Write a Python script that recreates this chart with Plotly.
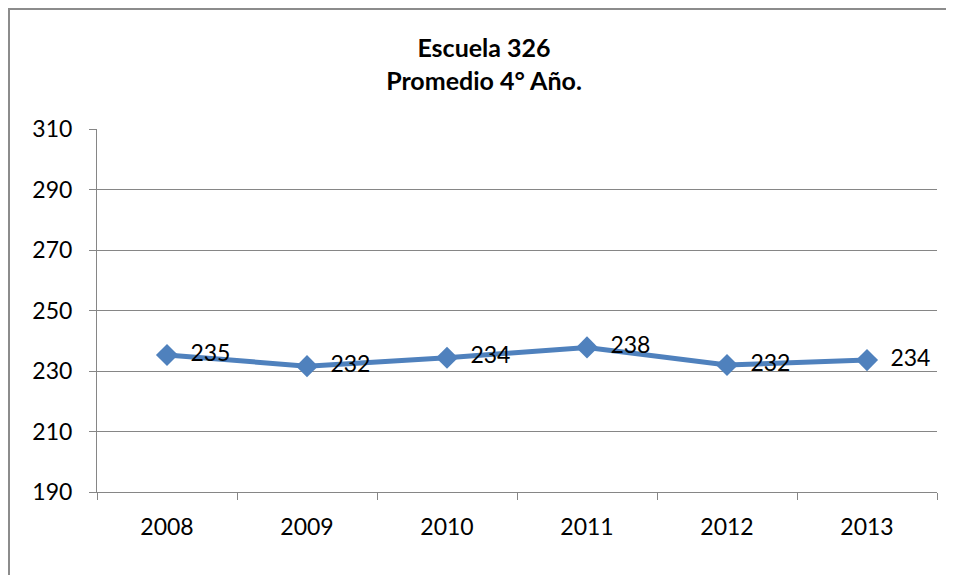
import plotly.graph_objects as go

# datos
years = ["2008", "2009", "2010", "2011", "2012", "2013"]
promedio = [235.3, 231.6, 234.4, 237.8, 232.0, 233.6]
y_ticks = [190, 210, 230, 250, 270, 290, 310]

FONT = "Lato, Open Sans, sans-serif"
LINE_COLOR = "#4F81BD"
GRID_COLOR = "#868686"

# el documento html deja 8px de margen en el body
L, R, T, B = 89, 25, 121, 91
PW = 954 - L - R
PH = 575 - T - B

fig = go.Figure()

fig.add_trace(go.Scatter(
    x=years,
    y=promedio,
    mode="lines+markers+text",
    line=dict(color=LINE_COLOR, width=5),
    marker=dict(symbol="diamond", size=17, color=LINE_COLOR),
    texttemplate="  %{y:.0f}",
    textposition="middle right",
    textfont=dict(family=FONT, size=23, color="#000000"),
    showlegend=False,
    cliponaxis=False
))

# marco exterior del gráfico
fig.add_shape(
    type="rect", xref="paper", yref="paper",
    x0=(1 - L) / PW, x1=(970 - L) / PW,
    y0=-(B + 20) / PH, y1=(PH + T - 1) / PH,
    line=dict(color="#8C8C8C", width=2),
    fillcolor="rgba(0,0,0,0)"
)

fig.update_layout(
    width=954,
    height=575,
    paper_bgcolor="white",
    plot_bgcolor="white",
    margin=dict(l=L, r=R, t=T, b=B),
    font=dict(family=FONT, size=23, color="#000000"),
    title=dict(
        text="<b>Escuela 326</b><br><b>Promedio 4° Año.</b>",
        x=476 / 954,
        xanchor="center",
        y=1 - 49 / 575,
        yanchor="middle",
        font=dict(family=FONT, size=25, color="#000000")
    ),
    xaxis=dict(
        type="category",
        showgrid=False,
        showline=True,
        linecolor=GRID_COLOR,
        linewidth=1,
        ticks="outside",
        tickson="boundaries",
        ticklen=7,
        tickcolor=GRID_COLOR,
        tickfont=dict(family=FONT, size=23),
        ticklabelstandoff=14,
        range=[-0.5, 5.5]
    ),
    yaxis=dict(
        range=[190, 310],
        tickvals=y_ticks,
        showgrid=True,
        gridcolor=GRID_COLOR,
        gridwidth=1,
        showline=True,
        linecolor=GRID_COLOR,
        linewidth=1,
        ticks="outside",
        ticklen=7,
        tickcolor=GRID_COLOR,
        tickfont=dict(family=FONT, size=23),
        ticklabelstandoff=12,
        zeroline=False
    )
)

fig.write_html("out.html")
